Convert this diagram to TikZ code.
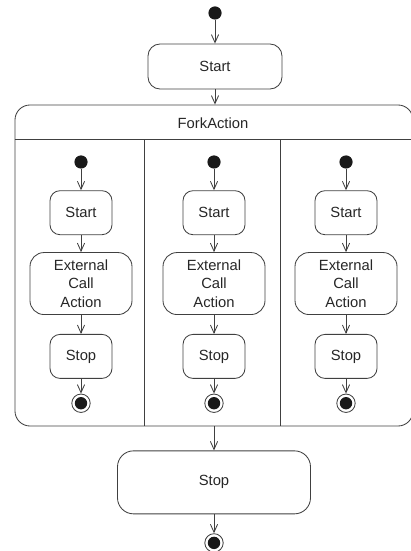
\documentclass[tikz,border=0pt]{standalone}
\usepackage{fontspec}
\setmainfont{Liberation Sans}
\usetikzlibrary{arrows.meta,positioning}

\begin{document}
\begin{tikzpicture}[
    x=0.25mm, y=-0.25mm,
    node distance=4.75mm,
    every node/.style={font=\fontsize{10.5}{13}\selectfont, text=black!85},
    gline/.style={draw=black!75, line width=0.6pt},
    action/.style={gline, rounded corners=2.5mm, align=center, minimum width=15.5mm, minimum height=11mm, inner sep=1pt},
    bigaction/.style={action, rounded corners=3.5mm, minimum width=25.5mm, minimum height=15.5mm},
    initial/.style={circle, fill=black!90, inner sep=0pt, minimum size=3.3mm},
    final/.style={circle, gline, inner sep=0pt, minimum size=4.6mm,
      path picture={\fill[black!90] (path picture bounding box.center) circle (1.55mm);}},
    arrow/.style={gline, -{Straight Barb[length=2mm,width=1.8mm]}}
  ]
  \useasboundingbox (0,0) rectangle (411,551);

  % Outer flow
  \node[initial] (init) at (215,13) {};
  \node[action, minimum width=33.5mm, minimum height=11.25mm, rounded corners=3mm] (start) at (215,66.5) {Start};

  % Fork container
  \node[gline, rounded corners=3.75mm, minimum width=99.5mm, minimum height=80.25mm, inner sep=0pt] (fork) at (214,265.5) {};
  \node (forklabel) at (213,123) {ForkAction};
  \draw[gline] ([yshift=-8.75mm]fork.north west) -- ([yshift=-8.75mm]fork.north east);
  \coordinate (div1) at (144,140);
  \coordinate (div2) at (280,140);
  \draw[gline] (div1) -- (div1 |- fork.south);
  \draw[gline] (div2) -- (div2 |- fork.south);

  % First branch
  \node[initial] (init1) at (81,162) {};
  \node[action, below=5.35mm of init1] (start1) {Start};
  \node[bigaction, below=4.25mm of start1] (call1) {External\\Call\\Action};
  \node[action, below=4.75mm of call1] (stop1) {Stop};
  \node[final, below=3.7mm of stop1] (end1) {};

  % Second branch
  \node[initial] (init2) at (214,162) {};
  \node[action, below=5.35mm of init2] (start2) {Start};
  \node[bigaction, below=4.25mm of start2] (call2) {External\\Call\\Action};
  \node[action, below=4.75mm of call2] (stop2) {Stop};
  \node[final, below=3.7mm of stop2] (end2) {};

  % Third branch
  \node[initial] (init3) at (346,162) {};
  \node[action, below=5.35mm of init3] (start3) {Start};
  \node[bigaction, below=4.25mm of start3] (call3) {External\\Call\\Action};
  \node[action, below=4.75mm of call3] (stop3) {Stop};
  \node[final, below=3.7mm of stop3] (end3) {};

  % Join
  \node[action, below=6mm of fork, minimum width=48.25mm, minimum height=15.75mm, rounded corners=4mm] (stop) {Stop};
  \node[final, below=4.75mm of stop] (end) {};

  % Connections
  \draw[arrow] (init) -- (start);
  \draw[arrow] (start.south) -- (start.south |- fork.north);

  \draw[arrow] (init1) -- (start1);
  \draw[arrow] (start1) -- (call1);
  \draw[arrow] (call1) -- (stop1);
  \draw[arrow] (stop1) -- (end1);

  \draw[arrow] (init2) -- (start2);
  \draw[arrow] (start2) -- (call2);
  \draw[arrow] (call2) -- (stop2);
  \draw[arrow] (stop2) -- (end2);

  \draw[arrow] (init3) -- (start3);
  \draw[arrow] (start3) -- (call3);
  \draw[arrow] (call3) -- (stop3);
  \draw[arrow] (stop3) -- (end3);

  \draw[arrow] (fork) -- (stop);
  \draw[arrow] (stop) -- (end);

\end{tikzpicture}
\end{document}
